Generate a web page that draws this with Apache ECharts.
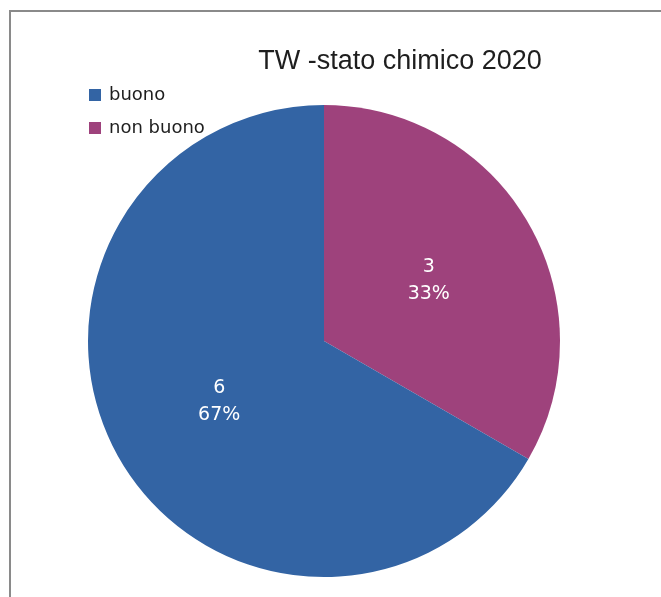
<!DOCTYPE html>
<html>
<head>
<meta charset="utf-8">
<script src="https://cdn.jsdelivr.net/npm/echarts@6/dist/echarts.min.js"></script>
<style>
  html, body { margin: 0; padding: 0; background: #fff; }
  #wrap { position: relative; width: 661px; height: 597px; overflow: hidden; }
  #frame { position: absolute; left: 9px; top: 10px; width: 700px; height: 700px;
           border-top: 2px solid #8a8a8a; border-left: 2px solid #8a8a8a; }
  #chart { position: absolute; left: 0; top: 0; width: 661px; height: 597px; }
</style>
</head>
<body>
<div id="wrap">
  <div id="frame"></div>
  <div id="chart"></div>
</div>
<script>
// slices in drawing order (clockwise from 12 o'clock)
const categories = ['non buono', 'buono'];
const values = [3, 6];
const colors = ['#9e427c', '#3364a4'];
const legendOrder = ['buono', 'non buono'];

const chart = echarts.init(document.getElementById('chart'));
chart.setOption({
  animation: false,
  title: {
    text: 'TW -stato chimico 2020',
    left: 395,
    top: 43,
    textAlign: 'center',
    textStyle: { fontFamily: 'Liberation Sans', fontSize: 27, fontWeight: 'normal', color: '#1e1e1e' }
  },
  legend: {
    orient: 'vertical',
    left: 84,
    top: 81,
    data: legendOrder,
    icon: 'rect',
    itemWidth: 12,
    itemHeight: 12,
    itemGap: 15,
    textStyle: { fontFamily: 'DejaVu Sans', fontSize: 18, color: '#1e1e1e', padding: [0, 0, 0, 3] }
  },
  series: [{
    type: 'pie',
    center: [324, 341],
    radius: 236,
    startAngle: 90,
    clockwise: true,
    percentPrecision: 0,
    label: {
      position: 'inside',
      formatter: '{c}\n{d}%',
      color: '#fff',
      fontFamily: 'DejaVu Sans',
      fontSize: 19,
      lineHeight: 27,
      textBorderWidth: 0
    },
    labelLine: { show: false },
    itemStyle: { borderWidth: 0 },
    data: categories.map((name, i) => ({
      name: name,
      value: values[i],
      itemStyle: { color: colors[i] }
    }))
  }]
});
</script>
</body>
</html>
